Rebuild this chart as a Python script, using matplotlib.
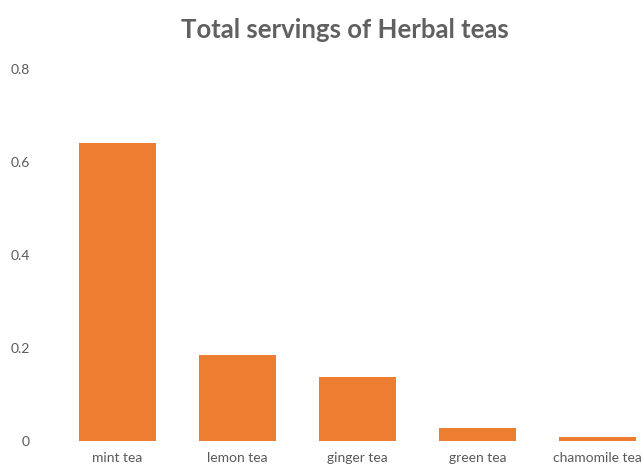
import matplotlib.pyplot as plt

# Chart data
teas = ["mint tea", "lemon tea", "ginger tea", "green tea", "chamomile tea"]
servings = [0.64, 0.185, 0.137, 0.029, 0.009]
y_ticks = [0, 0.2, 0.4, 0.6, 0.8]
y_tick_labels = ["0", "0.2", "0.4", "0.6", "0.8"]

plt.rcParams["font.family"] = ["Lato", "DejaVu Sans"]

W, H = 641, 468
fig = plt.figure(figsize=(W / 100, H / 100), dpi=100)

# axes spans from x=57.5px to the right edge, y=441px (zero) to 69px (0.8)
ax = fig.add_axes([57.5 / W, 27 / H, (W - 57.5) / W, (441 - 69) / H])

x = list(range(len(teas)))
ax.bar(x, servings, width=0.64, color="#ED7D31")

ax.set_xlim(-0.5, (W - 117.5) / 120)
ax.set_ylim(0, 0.8)

ax.set_xticks(x)
ax.set_xticklabels(teas, fontsize=10, color="#595959")
ax.set_yticks(y_ticks)
ax.set_yticklabels(y_tick_labels, fontsize=10, color="#595959")

ax.tick_params(axis="x", length=0, pad=8)
ax.tick_params(axis="y", length=0, pad=20)

for spine in ax.spines.values():
    spine.set_visible(False)

fig.text(345 / W, 1 - 30 / H, "Total servings of Herbal teas",
         ha="center", va="center", fontsize=18.5, fontweight="bold",
         color="#606060")

fig.savefig("out.png", dpi=100)
